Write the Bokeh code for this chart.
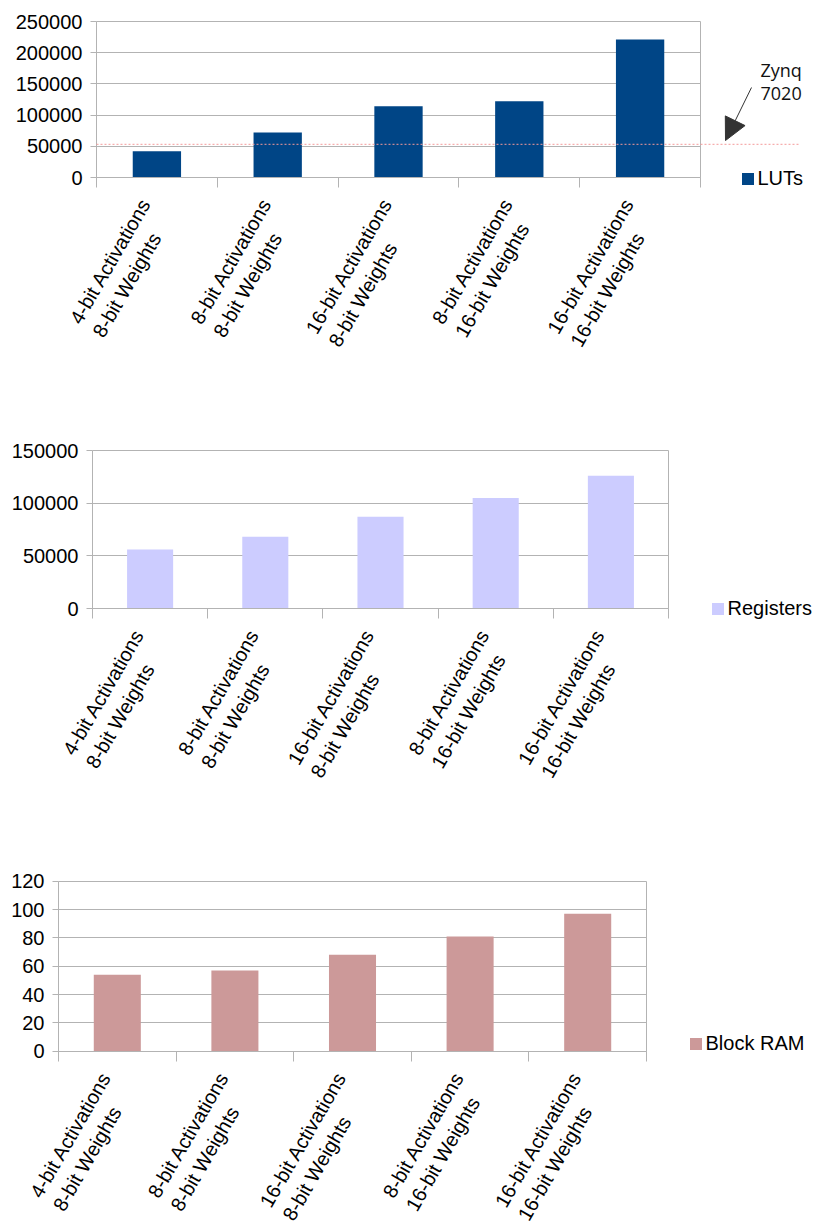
from math import pi

from bokeh.embed import file_html
from bokeh.layouts import column
from bokeh.models import (Arrow, BasicTickFormatter, FixedTicker, Grid, Label,
                          Legend, LegendItem, NormalHead, Range1d)
from bokeh.plotting import figure
from bokeh.resources import INLINE

# FPGA resource usage per precision configuration
categories = [
    "4-bit Activations\n8-bit Weights",
    "8-bit Activations\n8-bit Weights",
    "16-bit Activations\n8-bit Weights",
    "8-bit Activations\n16-bit Weights",
    "16-bit Activations\n16-bit Weights",
]
luts = [42000, 72000, 114000, 122000, 221000]
registers = [56000, 68000, 87000, 105000, 126000]
block_ram = [54, 57, 68, 81, 97]

# LUT capacity of the Zynq 7020 device
zynq_7020_luts = 53200

lut_ticks = [0, 50000, 100000, 150000, 200000, 250000]
register_ticks = [0, 50000, 100000, 150000]
bram_ticks = [0, 20, 40, 60, 80, 100, 120]

FIG_W = 817
GRID = "#b3b3b3"
FONT = "Liberation Sans"
HAS_CROSS_BOUNDS = "cross_bounds" in Grid.properties()


class Chart:
    """A bar chart whose frame fills the canvas; the plot box sits inside it."""

    def __init__(self, values, ticks, color, name, fig_h, box, legend_px):
        left, right, top, bottom = box
        n = len(values)
        self.fig_h = fig_h
        self.ux = (right - left) / n
        self.uy = (bottom - top) / (ticks[-1] - ticks[0])
        self.x0 = -left / self.ux
        self.y1 = ticks[-1] + top / self.uy
        x_range = Range1d(self.x0, n + (FIG_W - right) / self.ux)
        y_range = Range1d(ticks[0] - (fig_h - bottom) / self.uy, self.y1)

        p = figure(width=FIG_W, height=fig_h, x_range=x_range, y_range=y_range,
                   min_border=0, output_backend="svg", toolbar_location=None)
        p.outline_line_color = None
        p.background_fill_color = "white"
        p.border_fill_color = "white"
        self.p = p

        # horizontal grid lines and the right edge of the plot box
        if HAS_CROSS_BOUNDS:
            p.ygrid.ticker = FixedTicker(ticks=ticks, minor_ticks=[])
            p.ygrid.cross_bounds = (0, n)
            p.ygrid.grid_line_color = GRID
            p.xgrid.ticker = FixedTicker(ticks=[n], minor_ticks=[])
            p.xgrid.cross_bounds = (ticks[0], ticks[-1])
            p.xgrid.grid_line_color = GRID
        else:
            p.grid.visible = False
            p.segment(x0=[0] * len(ticks), x1=[n] * len(ticks), y0=ticks,
                      y1=ticks, line_color=GRID, level="underlay")
            p.segment(x0=[n], x1=[n], y0=[ticks[0]], y1=[ticks[-1]],
                      line_color=GRID, level="underlay")

        centers = [i + 0.5 for i in range(n)]
        bars = p.vbar(x=centers, top=values, width=0.4, fill_color=color,
                      line_color=None)

        # category axis: tick marks on the category boundaries
        xa = p.xaxis[0]
        xa.fixed_location = ticks[0]
        xa.bounds = (0, n)
        xa.ticker = FixedTicker(ticks=[], minor_ticks=list(range(n + 1)))
        xa.axis_line_color = GRID
        xa.major_tick_line_color = None
        xa.minor_tick_line_color = GRID
        xa.minor_tick_in = 0
        xa.minor_tick_out = 10
        xa.major_label_text_font_size = "0px"

        ya = p.yaxis[0]
        ya.fixed_location = 0
        ya.bounds = (ticks[0], ticks[-1])
        ya.ticker = FixedTicker(ticks=ticks, minor_ticks=[])
        ya.formatter = BasicTickFormatter(use_scientific=False)
        ya.axis_line_color = GRID
        ya.major_tick_line_color = GRID
        ya.major_tick_in = 0
        ya.major_tick_out = 6
        ya.minor_tick_line_color = None
        ya.major_label_standoff = 8
        ya.major_label_text_font = FONT
        ya.major_label_text_font_size = "20px"
        ya.major_label_text_color = "black"

        # rotated two-line category labels, hanging below the boundary ticks
        for c, text in zip(centers, categories):
            p.add_layout(Label(x=c, y=ticks[0], x_offset=-21, y_offset=-17,
                               text=text, angle=pi / 3, anchor="top_right",
                               text_align="left", text_font=FONT,
                               text_font_size="20px", text_color="black",
                               text_line_height=1.2))

        sq_left, sq_top = legend_px
        legend = Legend(items=[LegendItem(label=name, renderers=[bars])],
                        location=(sq_left - 1.5, fig_h - sq_top - 17),
                        padding=0, margin=0, border_line_color=None,
                        background_fill_alpha=0, glyph_width=15,
                        glyph_height=15, label_standoff=3,
                        label_text_font=FONT, label_text_font_size="20px",
                        label_text_color="black")
        p.add_layout(legend)

    def x(self, px):
        return self.x0 + px / self.ux

    def y(self, py):
        return self.y1 - py / self.uy


c1 = Chart(luts, lut_ticks, "#004586", "LUTs", 420, (96, 700, 21, 177),
           (741, 173))
c2 = Chart(registers, register_ticks, "#ccccff", "Registers", 430,
           (92, 668, 30, 188), (711, 183))
c3 = Chart(block_ram, bram_ticks, "#cc9999", "Block RAM", 379,
           (58, 646, 30.7, 200.7), (689, 188))

# device capacity line with its callout
p1 = c1.p
p1.add_layout(Arrow(x_start=0, y_start=zynq_7020_luts, x_end=c1.x(800),
                    y_end=zynq_7020_luts, end=None, line_color="#f49a9a",
                    line_width=1, line_dash="2 2"))
p1.add_layout(Arrow(x_start=c1.x(751), y_start=c1.y(87), x_end=c1.x(725),
                    y_end=c1.y(140), line_color="#333333", line_width=1,
                    end=NormalHead(size=22, fill_color="#333333",
                                   line_color="#333333")))
for text, base in (("Zynq", 69), ("7020", 93)):
    p1.add_layout(Label(x=c1.x(760), y=c1.y(base), text=text,
                        text_font="Open Sans", text_font_size="18px",
                        text_color="#111111", text_baseline="alphabetic"))

layout = column(c1.p, c2.p, c3.p)
open("out.html", "w").write(file_html(layout, INLINE))
